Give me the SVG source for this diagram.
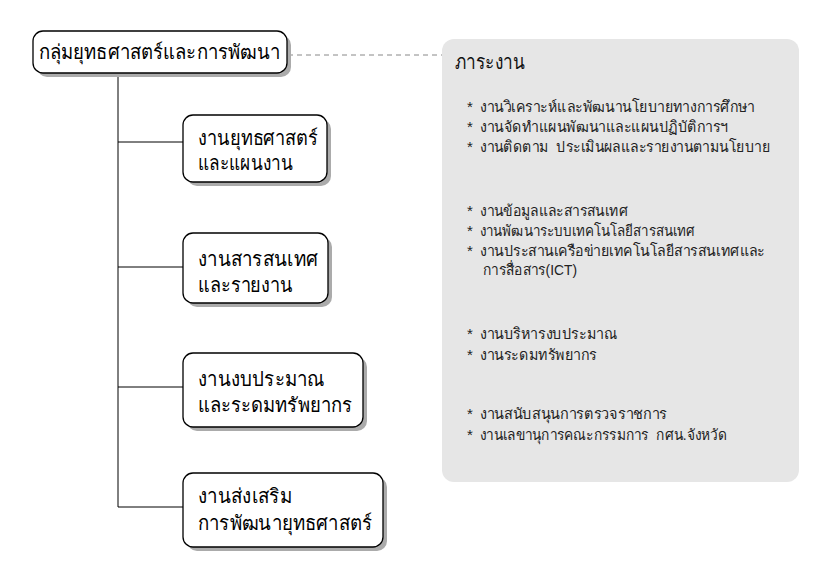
<svg xmlns="http://www.w3.org/2000/svg" width="830" height="587" viewBox="0 0 830 587">
<style>
.box{fill:#fff;stroke:#000;stroke-width:1.3}
.shd{fill:#ababab}
.nt{font-family:"Liberation Sans","Noto Sans",sans-serif;font-size:20px;fill:#000}
.pt{font-family:"Liberation Sans","Noto Sans",sans-serif;font-size:15px;fill:#222;white-space:pre}
.ln{stroke:#000;stroke-width:1;fill:none}
</style>
<rect x="0" y="0" width="830" height="587" fill="#fff"/>
<g id="connectors">
<line class="ln" x1="118" y1="73" x2="118" y2="507"/>
<line class="ln" x1="118" y1="142" x2="183" y2="142"/>
<line class="ln" x1="118" y1="267" x2="183" y2="267"/>
<line class="ln" x1="118" y1="387" x2="183" y2="387"/>
<line class="ln" x1="118" y1="507" x2="183" y2="507"/>
<line x1="288" y1="55" x2="442" y2="55" stroke="#888" stroke-width="1" stroke-dasharray="5,4"/>
</g>
<g id="panel">
<rect x="442" y="39" width="357" height="443" rx="12" fill="#e6e6e6"/>
<text x="455" y="69" font-family="Liberation Sans,Noto Sans,sans-serif" font-size="20" fill="#111" textLength="70" lengthAdjust="spacingAndGlyphs">ภาระงาน</text>
<g class="pt">
<text x="467" y="112">*</text><text x="480" y="112" textLength="275" lengthAdjust="spacingAndGlyphs">งานวิเคราะห์และพัฒนานโยบายทางการศึกษา</text>
<text x="467" y="132">*</text><text x="480" y="132" textLength="248" lengthAdjust="spacingAndGlyphs">งานจัดทำแผนพัฒนาและแผนปฏิบัติการฯ</text>
<text x="467" y="152">*</text><text x="480" y="152" textLength="290" lengthAdjust="spacingAndGlyphs" xml:space="preserve">งานติดตาม  ประเมินผลและรายงานตามนโยบาย</text>
<text x="467" y="216">*</text><text x="480" y="216" textLength="148" lengthAdjust="spacingAndGlyphs">งานข้อมูลและสารสนเทศ</text>
<text x="467" y="236">*</text><text x="480" y="236" textLength="215" lengthAdjust="spacingAndGlyphs">งานพัฒนาระบบเทคโนโลยีสารสนเทศ</text>
<text x="467" y="256">*</text><text x="480" y="256" textLength="285" lengthAdjust="spacingAndGlyphs">งานประสานเครือข่ายเทคโนโลยีสารสนเทศและ</text>
<text x="483" y="275" textLength="94" lengthAdjust="spacingAndGlyphs">การสื่อสาร(ICT)</text>
<text x="467" y="339">*</text><text x="480" y="339" textLength="137" lengthAdjust="spacingAndGlyphs">งานบริหารงบประมาณ</text>
<text x="467" y="360">*</text><text x="480" y="360" textLength="117" lengthAdjust="spacingAndGlyphs">งานระดมทรัพยากร</text>
<text x="467" y="419">*</text><text x="480" y="419" textLength="187" lengthAdjust="spacingAndGlyphs">งานสนับสนุนการตรวจราชการ</text>
<text x="467" y="440">*</text><text x="480" y="440" textLength="247" lengthAdjust="spacingAndGlyphs" xml:space="preserve">งานเลขานุการคณะกรรมการ  กศน.จังหวัด</text>
</g>
</g>
<g id="n0">
<rect class="shd" x="37" y="35" width="254" height="42" rx="10"/>
<rect class="box" x="33" y="31" width="254" height="42" rx="10"/>
<text class="nt" x="39" y="59" textLength="241" lengthAdjust="spacingAndGlyphs">กลุ่มยุทธศาสตร์และการพัฒนา</text>
</g>
<g id="n1">
<rect class="shd" x="187" y="119" width="144" height="67" rx="10"/>
<rect class="box" x="183" y="115" width="144" height="67" rx="10"/>
<text class="nt" x="198" y="145" textLength="120" lengthAdjust="spacingAndGlyphs">งานยุทธศาสตร์</text>
<text class="nt" x="198" y="170" textLength="95" lengthAdjust="spacingAndGlyphs">และแผนงาน</text>
</g>
<g id="n2">
<rect class="shd" x="187" y="237" width="145" height="70" rx="10"/>
<rect class="box" x="183" y="233" width="145" height="70" rx="10"/>
<text class="nt" x="198" y="266" textLength="120" lengthAdjust="spacingAndGlyphs">งานสารสนเทศ</text>
<text class="nt" x="198" y="292" textLength="95" lengthAdjust="spacingAndGlyphs">และรายงาน</text>
</g>
<g id="n3">
<rect class="shd" x="187" y="357" width="180" height="74" rx="10"/>
<rect class="box" x="183" y="353" width="180" height="74" rx="10"/>
<text class="nt" x="198" y="386" textLength="127" lengthAdjust="spacingAndGlyphs">งานงบประมาณ</text>
<text class="nt" x="198" y="412" textLength="154" lengthAdjust="spacingAndGlyphs">และระดมทรัพยากร</text>
</g>
<g id="n4">
<rect class="shd" x="187" y="477" width="200" height="74" rx="10"/>
<rect class="box" x="183" y="473" width="200" height="74" rx="10"/>
<text class="nt" x="198" y="503" textLength="94" lengthAdjust="spacingAndGlyphs">งานส่งเสริม</text>
<text class="nt" x="198" y="530" textLength="174" lengthAdjust="spacingAndGlyphs">การพัฒนายุทธศาสตร์</text>
</g>
</svg>
